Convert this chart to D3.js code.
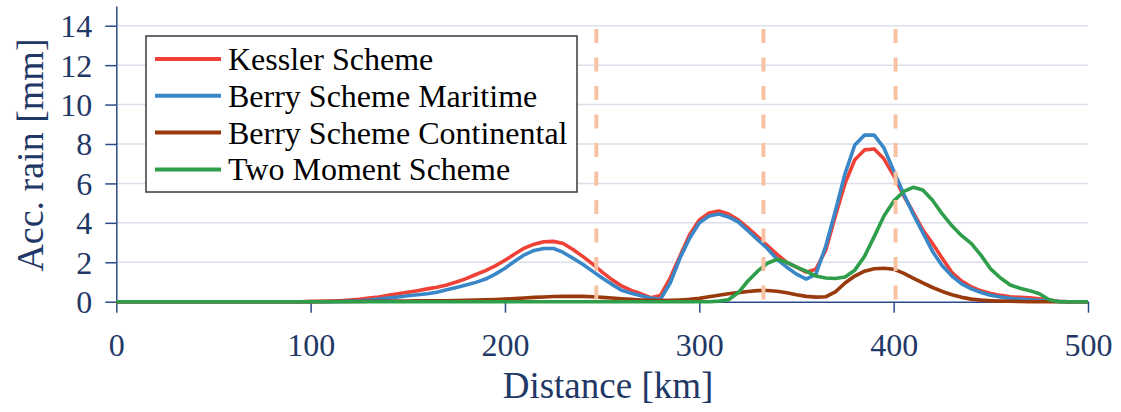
<!DOCTYPE html>
<html>
<head>
<meta charset="utf-8">
<script src="https://cdn.jsdelivr.net/npm/d3@7"></script>
<style>
  body { margin: 0; background: #fff; }
  svg text { font-family: "Liberation Serif", "Times New Roman", serif; }
</style>
</head>
<body>
<script>
// distance along the transect [km]
var distance = [
  0, 5, 10, 15, 20, 25, 30, 35, 40, 45, 50, 55, 60, 65, 70, 75, 80, 85, 90, 95,
  100, 105, 110, 115, 120, 125, 130, 135, 140, 145, 150, 155, 160, 165, 170, 175, 180, 185, 190, 195,
  200, 205, 210, 215, 220, 225, 230, 235, 240, 245, 250, 255, 260, 265, 270, 275, 280, 285, 290, 295,
  300, 305, 310, 315, 320, 325, 330, 335, 340, 345, 350, 355, 360, 365, 370, 375, 380, 385, 390, 395,
  400, 405, 410, 415, 420, 425, 430, 435, 440, 445, 450, 455, 460, 465, 470, 475, 480, 485, 490, 495, 500
];

// accumulated rain [mm], one value per distance
var kessler = [
  0, 0, 0, 0, 0, 0, 0, 0, 0, 0, 0, 0, 0, 0, 0, 0, 0, 0, 0, 0,
  0.01, 0.02, 0.03, 0.05, 0.08, 0.12, 0.18, 0.24, 0.32, 0.40, 0.48, 0.56, 0.65, 0.73, 0.85, 1.0, 1.17, 1.38, 1.58, 1.82,
  2.1, 2.42, 2.72, 2.92, 3.04, 3.06, 2.95, 2.65, 2.3, 1.92, 1.5, 1.12, 0.8, 0.57, 0.4, 0.2, 0.32, 1.2, 2.3, 3.4,
  4.15, 4.5, 4.6, 4.45, 4.15, 3.75, 3.3, 2.85, 2.4, 2.0, 1.75, 1.5, 1.65, 2.6, 4.35, 6.0, 7.2, 7.7, 7.75, 7.25,
  6.4, 5.4, 4.55, 3.65, 2.95, 2.2, 1.48, 1.05, 0.75, 0.55, 0.42, 0.32, 0.25, 0.22, 0.2, 0.15, 0.08, 0.02, 0, 0, 0
];

var berryMaritime = [
  0, 0, 0, 0, 0, 0, 0, 0, 0, 0, 0, 0, 0, 0, 0, 0, 0, 0, 0, 0,
  0, 0, 0, 0.01, 0.03, 0.05, 0.08, 0.13, 0.18, 0.24, 0.3, 0.35, 0.4, 0.48, 0.6, 0.72, 0.85, 0.98, 1.15, 1.4,
  1.7, 2.05, 2.38, 2.6, 2.7, 2.7, 2.5, 2.2, 1.9, 1.55, 1.2, 0.88, 0.58, 0.43, 0.3, 0.18, 0.12, 0.95, 2.2, 3.22,
  4.0, 4.35, 4.45, 4.3, 4.05, 3.6, 3.15, 2.7, 2.15, 1.75, 1.4, 1.15, 1.4, 2.8, 4.6, 6.5, 7.95, 8.45, 8.45, 7.8,
  6.65, 5.5, 4.45, 3.5, 2.55, 1.82, 1.3, 0.9, 0.65, 0.47, 0.33, 0.24, 0.17, 0.13, 0.1, 0.06, 0.03, 0.01, 0, 0, 0
];

var berryContinental = [
  0, 0, 0, 0, 0, 0, 0, 0, 0, 0, 0, 0, 0, 0, 0, 0, 0, 0, 0, 0,
  0.005, 0.005, 0.01, 0.01, 0.01, 0.015, 0.02, 0.02, 0.02, 0.03, 0.03, 0.04, 0.04, 0.05, 0.05, 0.06, 0.07, 0.08, 0.1, 0.11,
  0.13, 0.16, 0.19, 0.22, 0.24, 0.26, 0.27, 0.28, 0.27, 0.25, 0.22, 0.19, 0.15, 0.12, 0.09, 0.07, 0.06, 0.07, 0.09, 0.12,
  0.17, 0.25, 0.33, 0.4, 0.46, 0.52, 0.56, 0.57, 0.53, 0.45, 0.35, 0.27, 0.23, 0.25, 0.5, 0.95, 1.3, 1.55, 1.67, 1.7,
  1.65, 1.45, 1.2, 0.95, 0.72, 0.52, 0.35, 0.22, 0.13, 0.08, 0.05, 0.03, 0.02, 0.01, 0, 0, 0, 0, 0, 0, 0
];

var twoMoment = [
  0, 0, 0, 0, 0, 0, 0, 0, 0, 0, 0, 0, 0, 0, 0, 0, 0, 0, 0, 0,
  0, 0, 0, 0, 0, 0, 0, 0, 0, 0, 0, 0, 0, 0, 0, 0, 0, 0, 0, 0,
  0, 0, 0, 0, 0, 0, 0, 0, 0, 0, 0, 0, 0, 0, 0, 0, 0, 0, 0, 0,
  0, 0, 0.03, 0.1, 0.45, 1.05, 1.55, 1.95, 2.15, 2.0, 1.75, 1.55, 1.3, 1.2, 1.18, 1.25, 1.6, 2.3, 3.3, 4.35,
  5.1, 5.58, 5.8, 5.67, 5.15, 4.45, 3.85, 3.35, 2.95, 2.35, 1.65, 1.2, 0.85, 0.68, 0.56, 0.4, 0.1, 0, 0, 0, 0
];

var seriesNames  = ["Kessler Scheme", "Berry Scheme Maritime", "Berry Scheme Continental", "Two Moment Scheme"];
var seriesValues = [kessler, berryMaritime, berryContinental, twoMoment];
var seriesColors = ["#ef4136", "#3a87c7", "#993a0c", "#2f9e4b"];

// dashed reference lines [km]
var markers = [247, 333, 401];

var xTicks = [0, 100, 200, 300, 400, 500];
var yTicks = [0, 2, 4, 6, 8, 10, 12, 14];

var width = 1121, height = 412,
    axisColor = "#2b4a8a", textColor = "#1f3866";

var svg = d3.select("body").append("svg")
  .attr("width", width)
  .attr("height", height);

var x = d3.scaleLinear().domain([0, 500]).range([116.3, 1088]);
var y = d3.scaleLinear().domain([0, 15]).range([301.7, 6]);

// Gridlines
svg.append("g").selectAll("line")
  .data(yTicks.filter(function(d){ return d > 0; }))
  .enter().append("line")
  .attr("x1", x(0)).attr("x2", x(500))
  .attr("y1", function(d){ return y(d); }).attr("y2", function(d){ return y(d); })
  .attr("stroke", "#dadfe9").attr("stroke-width", 1.5);

// Axes
var yAxis = svg.append("g")
  .attr("transform", "translate(" + x(0) + ",0)")
  .call(d3.axisLeft(y).tickValues(yTicks).tickSize(11).tickSizeOuter(0).tickPadding(13));

var xAxis = svg.append("g")
  .attr("transform", "translate(0," + y(0) + ")")
  .call(d3.axisBottom(x).tickValues(xTicks).tickSize(11).tickSizeOuter(0).tickPadding(20));

[yAxis, xAxis].forEach(function(a){
  a.select(".domain").attr("stroke", axisColor).attr("stroke-width", 1.5);
  a.selectAll(".tick line").attr("stroke", axisColor).attr("stroke-width", 1.5);
  a.selectAll(".tick text")
    .attr("fill", textColor)
    .style("font-family", "'Liberation Serif', serif")
    .style("font-size", "32px");
});
yAxis.selectAll(".tick text").attr("dy", "0.34em");
xAxis.selectAll(".tick text").attr("dy", "0.72em");

// Axis titles
svg.append("text")
  .attr("transform", "translate(43,155) rotate(-90)")
  .attr("text-anchor", "middle")
  .attr("fill", textColor)
  .style("font-size", "38px")
  .text("Acc. rain [mm]");

svg.append("text")
  .attr("x", 608)
  .attr("y", 398)
  .attr("text-anchor", "middle")
  .attr("fill", textColor)
  .style("font-size", "37px")
  .text("Distance [km]");

// Series
var line = d3.line()
  .x(function(d){ return x(d[0]); })
  .y(function(d){ return y(d[1]); });

seriesValues.forEach(function(vals, i){
  svg.append("path")
    .datum(distance.map(function(d, j){ return [d, vals[j]]; }))
    .attr("d", line)
    .attr("fill", "none")
    .attr("stroke", seriesColors[i])
    .attr("stroke-width", 3.6)
    .attr("stroke-linejoin", "round");
});

// Dashed markers
svg.append("g").selectAll("line")
  .data(markers)
  .enter().append("line")
  .attr("x1", function(d){ return x(d); }).attr("x2", function(d){ return x(d); })
  .attr("y1", 29).attr("y2", y(0))
  .attr("stroke", "#f8c2a2")
  .attr("stroke-width", 4)
  .attr("stroke-dasharray", "14,14.5");

// Legend
var legend = svg.append("g");
legend.append("rect")
  .attr("x", 146).attr("y", 36)
  .attr("width", 431).attr("height", 156)
  .attr("fill", "#fff")
  .attr("stroke", "#3a3a3a").attr("stroke-width", 1.5);

var items = legend.selectAll("g.item")
  .data(seriesNames)
  .enter().append("g")
  .attr("class", "item")
  .attr("transform", function(d, i){ return "translate(0," + (59 + i * 36.8) + ")"; });

items.append("line")
  .attr("x1", 155).attr("x2", 221)
  .attr("stroke", function(d, i){ return seriesColors[i]; })
  .attr("stroke-width", 4);

items.append("text")
  .attr("x", 228).attr("y", 11)
  .attr("fill", "#000")
  .style("font-size", "32px")
  .text(function(d){ return d; });
</script>
</body>
</html>
